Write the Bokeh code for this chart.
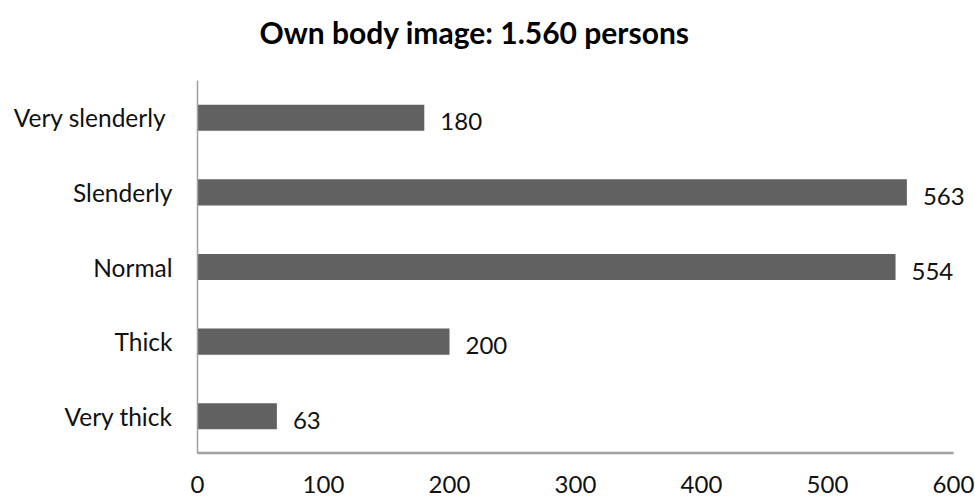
from bokeh.plotting import figure
from bokeh.models import ColumnDataSource, FactorRange, Range1d, FixedTicker, LabelSet, Title
from bokeh.core.properties import value
from bokeh.embed import file_html
from bokeh.resources import INLINE

categories = ["Very slenderly ", "Slenderly", "Normal", "Thick", "Very thick"]
counts = [180, 563, 554, 200, 63]
x_ticks = [0, 100, 200, 300, 400, 500, 600]
title_text = "Own body image: 1.560 persons"

FONT = "Lato"
src = ColumnDataSource(dict(cat=categories, val=counts, lab=[str(v) for v in counts]))

# frame runs on past the last tick so that value labels past 600 are not clipped
x_end = x_ticks[-1] * 778 / 756

p = figure(width=975, height=500, output_backend="svg", toolbar_location=None,
           y_range=FactorRange(*list(reversed(categories))),
           x_range=Range1d(0, x_end),
           min_border_left=197, min_border_right=0, min_border_top=80, min_border_bottom=47)
p.title = None

p.hbar(y="cat", right="val", left=0, height=0.35, source=src,
       fill_color="#616161", line_color=None)

# horizontal axis rule at the foot of the lowest category, from first to last tick
bottom_cat = categories[-1]
rule = ColumnDataSource(dict(x=[x_ticks[0], x_ticks[-1]],
                             y=[(bottom_cat, -0.49), (bottom_cat, -0.49)]))
p.line(x="x", y="y", source=rule, line_color="#a0a0a0", line_width=2)

labels = LabelSet(x="val", y="cat", text="lab", source=src, x_offset=16, y_offset=-4,
                  text_font=value(FONT), text_font_size="24px", text_color="#111111",
                  text_baseline="middle", text_align="left")
p.add_layout(labels)

# spacer panel between frame and title
p.add_layout(Title(text=" ", text_font_size="1px", standoff=28), "above")
p.add_layout(Title(text=title_text, text_font=FONT, text_font_size="30px",
                   text_font_style="bold", text_color="#000000",
                   align="left", offset=62, standoff=0), "above")

p.xgrid.visible = False
p.ygrid.visible = False
p.outline_line_color = None
p.background_fill_color = "white"
p.border_fill_color = "white"

xa = p.xaxis[0]
xa.ticker = FixedTicker(ticks=x_ticks)
xa.bounds = (x_ticks[0], x_ticks[-1])
xa.major_tick_line_color = None
xa.minor_tick_line_color = None
xa.axis_line_color = "#a0a0a0"
xa.axis_line_width = 1.5
xa.major_label_text_font = FONT
xa.major_label_text_font_size = "24px"
xa.major_label_text_color = "#111111"
xa.major_label_standoff = 16

ya = p.yaxis[0]
ya.major_tick_line_color = None
ya.minor_tick_line_color = None
ya.axis_line_color = "#a0a0a0"
ya.axis_line_width = 1.5
ya.major_label_text_font = FONT
ya.major_label_text_font_size = "24.5px"
ya.major_label_text_color = "#111111"
ya.major_label_standoff = 19

open("out.html", "w").write(file_html(p, INLINE))
